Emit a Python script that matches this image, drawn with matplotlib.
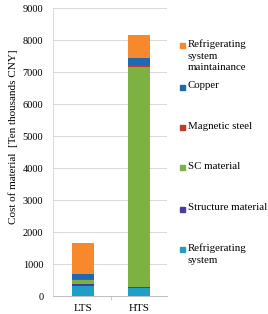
import matplotlib
matplotlib.use("Agg")
import matplotlib.pyplot as plt
import numpy as np

categories = ["LTS", "HTS"]
series_names = ["Refrigerating\nsystem", "Structure material", "SC material",
                "Magnetic steel", "Copper", "Refrigerating\nsystem\nmaintainance"]
refrigerating_system = [300, 250]
structure_material = [60, 40]
sc_material = [150, 6880]
magnetic_steel = [20, 50]
copper = [150, 230]
maintainance = [970, 700]
yticks = [0, 1000, 2000, 3000, 4000, 5000, 6000, 7000, 8000, 9000]

values = [refrigerating_system, structure_material, sc_material,
          magnetic_steel, copper, maintainance]
colors = ["#1f9fc6", "#4a3c9c", "#7db243", "#bf3a2c", "#1f68b2", "#f7882c"]

plt.rcParams['font.family'] = ['Liberation Serif', 'DejaVu Serif']

fig = plt.figure(figsize=(2.68, 3.14), dpi=100)
ax = fig.add_axes([53/268, 1-296/314, 114/268, 288/314])

x = np.arange(len(categories))
bottom = np.zeros(len(categories))
for vals, col in zip(values, colors):
    ax.bar(x, vals, width=0.39, bottom=bottom, color=col, zorder=3)
    bottom += np.array(vals)

ax.set_xlim(-0.54, 1.5)
ax.set_ylim(0, 9000)
ax.set_yticks(yticks)
ax.set_yticklabels([str(v) for v in yticks], fontsize=7.5)
ax.set_xticks(x)
ax.set_xticklabels(categories, fontsize=8)
ax.set_xticks([0.5], minor=True)
ax.tick_params(axis='x', which='major', length=0, pad=6)
ax.tick_params(axis='x', which='minor', length=3, color='#bfbfbf')
ax.tick_params(axis='y', length=0, pad=7)
ax.grid(axis='y', color='#d9d9d9', linewidth=0.7, zorder=0)
for s in ['top', 'right']:
    ax.spines[s].set_visible(False)
ax.spines['left'].set_color('#d9d9d9')
ax.spines['bottom'].set_color('#bfbfbf')
ax.spines['left'].set_linewidth(0.7)
ax.spines['bottom'].set_linewidth(0.7)
fig.text(13/268, 1-137/314, "Cost of material  [Ten thousands CNY]", fontsize=8,
         rotation=90, ha='center', va='center')

# legend (top to bottom: reverse stack order)
legend_y = [45, 87, 127, 167, 209, 249]
for name, col, ly in zip(series_names[::-1], colors[::-1], legend_y):
    fig.patches.append(plt.Rectangle((180/268, 1-(ly+2.5)/314), 5/268, 5/314,
                                     transform=fig.transFigure, color=col, figure=fig))
    fig.text(188/268, 1-(ly-5.5)/314, name, fontsize=7.8, va='top', ha='left',
             linespacing=1.35)

fig.savefig("out.png", dpi=100)
